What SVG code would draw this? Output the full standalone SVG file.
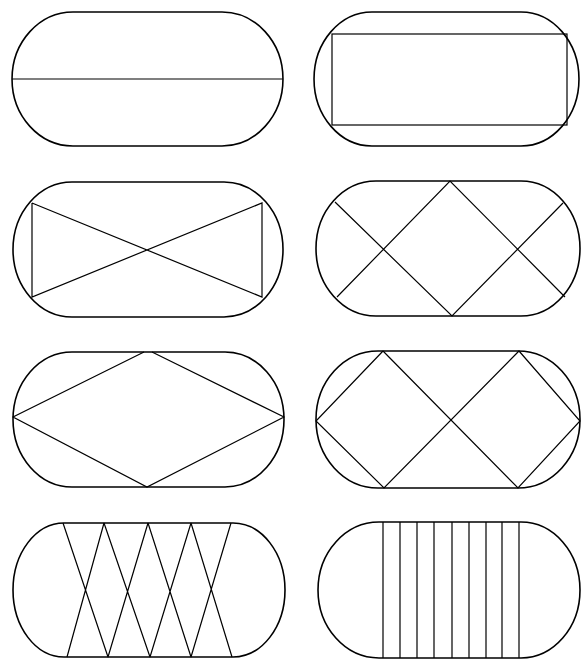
<svg xmlns="http://www.w3.org/2000/svg" width="581" height="660" viewBox="0 0 581 660">
<style>
.o{fill:none;stroke:#000;stroke-width:1.6}
.l{fill:none;stroke:#000;stroke-width:1.2}
</style>
<rect width="581" height="660" fill="#fff"/>
<g id="shape1">
<path class="o" d="M73,12 L222,12 A61,67 0 0 1 222,146 L73,146 A61,67 0 0 1 73,12 Z"/>
<line class="l" x1="12" y1="79" x2="283" y2="79"/>
</g>
<g id="shape2">
<path class="o" d="M372,12 L521,12 A58,67 0 0 1 521,146 L372,146 A58,67 0 0 1 372,12 Z"/>
<rect class="l" x="332" y="34" width="235" height="91"/>
</g>
<g id="shape3">
<path class="o" d="M72,182 L224,182 A59,67.5 0 0 1 224,317 L72,317 A59,67.5 0 0 1 72,182 Z"/>
<path class="l" d="M32,203 L32,297 L262,203 L262,297 L32,203"/>
</g>
<g id="shape4">
<path class="o" d="M376,181 L521,181 A59,67.5 0 0 1 521,316 L376,316 A60,67.5 0 0 1 376,181 Z"/>
<path class="l" d="M335,202 L452,316 L563,203 M337,297 L450,181 L565,297"/>
</g>
<g id="shape5">
<path class="o" d="M72,352 L225,352 A59,67.5 0 0 1 225,487 L72,487 A59,67.5 0 0 1 72,352 Z"/>
<path class="l" d="M144,352 L13,417 L147,487 L284,417 L152,352"/>
</g>
<g id="shape6">
<path class="o" d="M378,351 L518,351 A62,68.5 0 0 1 518,488 L378,488 A62,68.5 0 0 1 378,351 Z"/>
<path class="l" d="M383,351 L316,421 L384,488 L519,351 L580,421 L518,488 L383,351"/>
</g>
<g id="shape7">
<path class="o" d="M64,523 L233,523 A52,67 0 0 1 233,657 L64,657 A51,67 0 0 1 64,523 Z"/>
<path class="l" d="M63,523 L108,657 M104,523 L67,657 M104,523 L150,657 M148,523 L108,657 M148,523 L191,657 M191,523 L150,657 M191,523 L232,657 M231,523 L191,657"/>
</g>
<g id="shape8">
<path class="o" d="M379,522 L521,522 A59,68 0 0 1 521,658 L379,658 A61,68 0 0 1 379,522 Z"/>
<path class="l" d="M383,522 V658 M400,522 V658 M417,522 V658 M434,522 V658 M452,522 V658 M469,522 V658 M486,522 V658 M502,522 V658 M519,522 V658"/>
</g>
</svg>
